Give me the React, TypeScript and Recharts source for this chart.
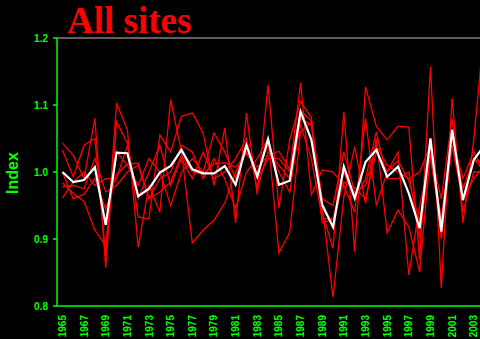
import { LineChart, Line, XAxis, YAxis, ReferenceLine } from 'recharts';

const years = [
  1965, 1966, 1967, 1968, 1969, 1970, 1971, 1972, 1973, 1974,
  1975, 1976, 1977, 1978, 1979, 1980, 1981, 1982, 1983, 1984,
  1985, 1986, 1987, 1988, 1989, 1990, 1991, 1992, 1993, 1994,
  1995, 1996, 1997, 1998, 1999, 2000, 2001, 2002, 2003, 2004,
];

// mean of all sites (white)
const allSites = [
  1.0, 0.985, 0.988, 1.007, 0.921, 1.029, 1.028, 0.964, 0.975, 0.999,
  1.009, 1.033, 1.004, 0.998, 0.998, 1.009, 0.981, 1.04, 0.993, 1.049,
  0.981, 0.987, 1.09, 1.048, 0.951, 0.918, 1.008, 0.961, 1.015, 1.033,
  0.993, 1.008, 0.968, 0.916, 1.05, 0.911, 1.063, 0.958, 1.018, 1.04,
];

// individual sites (red)
const siteA = [
  1.043, 1.025, 0.99, 1.08, 0.857, 1.075, 1.043, 0.933, 0.93, 1.055,
  1.03, 1.083, 1.088, 1.058, 0.98, 1.066, 0.924, 1.088, 0.966, 1.13,
  0.946, 1.048, 1.105, 1.081, 0.939, 0.886, 1.09, 0.881, 1.127, 1.068,
  1.048, 1.068, 1.067, 0.869, 1.157, 0.827, 1.11, 0.924, 1.048, 1.22,
];
const siteB = [
  1.033, 0.993, 1.04, 1.05, 0.875, 1.103, 1.063, 0.888, 0.98, 0.94,
  1.108, 1.03, 0.894, 0.913, 0.928, 0.954, 1.0, 1.03, 1.0, 1.04,
  1.0, 0.97, 1.08, 1.07, 0.95, 0.813, 0.963, 1.038, 0.953, 1.05,
  0.909, 0.943, 0.918, 0.851, 1.03, 0.96, 1.08, 0.94, 1.0, 1.0,
];
const siteC = [
  0.984, 0.968, 0.956, 0.913, 0.89, 1.03, 1.01, 0.98, 1.02, 1.0,
  0.95, 1.0, 1.02, 1.0, 1.058, 1.03, 0.99, 1.045, 0.99, 1.02,
  1.02, 1.0, 1.133, 0.966, 1.003, 1.0, 0.98, 0.94, 1.08, 0.95,
  1.0, 1.03, 0.846, 0.95, 1.02, 0.92, 1.05, 0.99, 1.03, 1.0,
];
const siteD = [
  0.978, 0.98, 0.975, 1.02, 0.97, 0.98, 1.0, 1.01, 0.96, 0.99,
  1.0, 1.04, 1.03, 0.99, 1.02, 0.99, 0.945, 1.0, 1.02, 1.05,
  0.879, 0.91, 1.06, 1.075, 0.96, 0.95, 1.03, 0.97, 0.98, 1.04,
  1.01, 1.0, 0.99, 1.0, 1.04, 0.9, 1.04, 0.96, 0.99, 1.01,
];
const siteE = [
  0.961, 0.985, 1.0, 0.98, 0.99, 0.99, 1.04, 0.96, 1.0, 1.04,
  0.98, 1.02, 0.99, 1.03, 0.99, 1.0, 1.02, 1.05, 0.975, 1.03,
  1.01, 0.99, 1.07, 1.02, 0.93, 0.93, 1.0, 0.96, 0.99, 1.06,
  0.99, 0.99, 1.0, 0.9, 1.03, 0.93, 1.06, 0.975, 1.02, 1.0,
];
const siteF = [
  1.0, 0.96, 0.967, 0.99, 0.944, 0.996, 1.012, 1.013, 0.96, 0.97,
  0.985, 1.025, 1.0, 0.997, 1.012, 1.014, 1.007, 1.027, 1.007, 1.024,
  1.031, 1.004, 1.092, 1.076, 0.924, 0.929, 0.985, 0.977, 0.96, 1.03,
  1.001, 1.017, 0.987, 0.926, 1.023, 0.929, 1.038, 0.959, 1.02, 1.01,
];

const yTicks = [0.8, 0.9, 1.0, 1.1, 1.2];
const labelYears = years.filter((y) => y % 2 === 1);
const yearEdges = years.map((y) => y - 0.5);

const sites = [siteA, siteB, siteC, siteD, siteE, siteF];

const data = years.map((year, i) => {
  const row: Record<string, number> = { year, mean: allSites[i] };
  sites.forEach((s, k) => {
    row[`s${k}`] = s[i];
  });
  return row;
});

const GREEN = '#00ff00';
const SANS = '"Liberation Sans", Arial, sans-serif';

function YearTick({ x, y, payload }: any) {
  return (
    <text
      x={x}
      y={y}
      transform={`rotate(-90 ${x} ${y})`}
      textAnchor="end"
      dominantBaseline="central"
      fill={GREEN}
      fontSize={10}
      fontWeight="bold"
      fontFamily={SANS}
    >
      {payload.value}
    </text>
  );
}

export default function App() {
  return (
    <div
      style={{
        position: 'absolute',
        left: 0,
        top: 0,
        width: 480,
        height: 339,
        background: '#000',
        overflow: 'hidden',
      }}
    >
      <div
        style={{
          position: 'absolute',
          left: 67,
          top: 1,
          fontFamily: '"Liberation Serif", "Times New Roman", serif',
          fontWeight: 'bold',
          fontSize: 37,
          lineHeight: '40px',
          color: '#ff0000',
          zIndex: 2,
        }}
      >
        All sites
      </div>
      <LineChart
        width={490}
        height={339}
        data={data}
        margin={{ top: 38, right: 0, left: 0, bottom: 0 }}
      >
        <XAxis
          xAxisId="edges"
          type="number"
          dataKey="year"
          domain={[1964.5, 2004.5]}
          ticks={yearEdges}
          tick={false}
          tickSize={3}
          tickLine={{ stroke: GREEN, strokeWidth: 1.5 }}
          axisLine={false}
          height={0}
        />
        <XAxis
          xAxisId="years"
          type="number"
          dataKey="year"
          domain={[1964.5, 2004.5]}
          ticks={labelYears}
          interval={0}
          tick={<YearTick />}
          tickLine={false}
          tickSize={6}
          tickMargin={3}
          axisLine={{ stroke: GREEN, strokeWidth: 1.5 }}
          height={33}
        />
        <YAxis
          domain={[0.8, 1.2]}
          allowDataOverflow
          ticks={yTicks}
          width={57}
          tickFormatter={(v: number) => v.toFixed(1)}
          tick={{ fill: GREEN, fontSize: 10, fontWeight: 'bold', fontFamily: SANS }}
          tickSize={4}
          tickMargin={5}
          tickLine={{ stroke: GREEN, strokeWidth: 1.5 }}
          axisLine={{ stroke: GREEN, strokeWidth: 1.5 }}
          label={{
            content: () => (
              <text
                x={12}
                y={173}
                transform="rotate(-90 12 173)"
                textAnchor="middle"
                dominantBaseline="central"
                fill={GREEN}
                fontSize={16}
                fontWeight="bold"
                fontFamily={SANS}
              >
                Index
              </text>
            ),
          }}
        />
        <ReferenceLine xAxisId="years" y={1.2} stroke="#808080" strokeWidth={1.5} />
        {sites.map((_, k) => (
          <Line
            key={k}
            xAxisId="years"
            dataKey={`s${k}`}
            type="linear"
            stroke="#ff0000"
            strokeWidth={1.3}
            dot={false}
            isAnimationActive={false}
          />
        ))}
        <Line
          xAxisId="years"
          dataKey="mean"
          type="linear"
          stroke="#ffffff"
          strokeWidth={2.2}
          dot={false}
          isAnimationActive={false}
        />
      </LineChart>
    </div>
  );
}
